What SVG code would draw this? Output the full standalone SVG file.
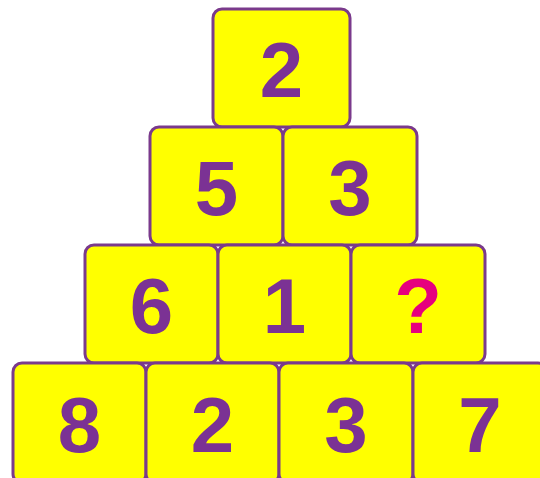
<svg xmlns="http://www.w3.org/2000/svg" width="540" height="478" viewBox="0 0 540 478">
<style>
.b{fill:#ffff00;stroke:#7a3a8c;stroke-width:3}
.t{font-family:"Liberation Sans",Arial,sans-serif;font-weight:bold;font-size:78px;fill:#7b3294;text-anchor:middle}
.q{fill:#e6007e}
</style>
<rect width="540" height="478" fill="#ffffff"/>
<g id="r1c1"><rect class="b" x="213" y="9" width="137" height="118" rx="9"/><text class="t" x="281.5" y="97">2</text></g>
<g id="r2c1"><rect class="b" x="150" y="127" width="133" height="118" rx="9"/><text class="t" x="216.5" y="215">5</text></g>
<g id="r2c2"><rect class="b" x="283" y="127" width="134" height="118" rx="9"/><text class="t" x="350" y="215">3</text></g>
<g id="r3c1"><rect class="b" x="85" y="245" width="133" height="118" rx="9"/><text class="t" x="151.5" y="333">6</text></g>
<g id="r3c2"><rect class="b" x="218" y="245" width="133" height="118" rx="9"/><text class="t" x="284.5" y="333">1</text></g>
<g id="r3c3"><rect class="b" x="351" y="245" width="134" height="118" rx="9"/><text class="t q" x="418" y="333">?</text></g>
<g id="r4c1"><rect class="b" x="13" y="363" width="133" height="120" rx="9"/><text class="t" x="79.5" y="452">8</text></g>
<g id="r4c2"><rect class="b" x="146" y="363" width="133" height="120" rx="9"/><text class="t" x="212.5" y="452">2</text></g>
<g id="r4c3"><rect class="b" x="279" y="363" width="134" height="120" rx="9"/><text class="t" x="346" y="452">3</text></g>
<g id="r4c4"><rect class="b" x="413" y="363" width="134" height="120" rx="9"/><text class="t" x="480" y="452">7</text></g>
<g id="connectors"></g>
</svg>
